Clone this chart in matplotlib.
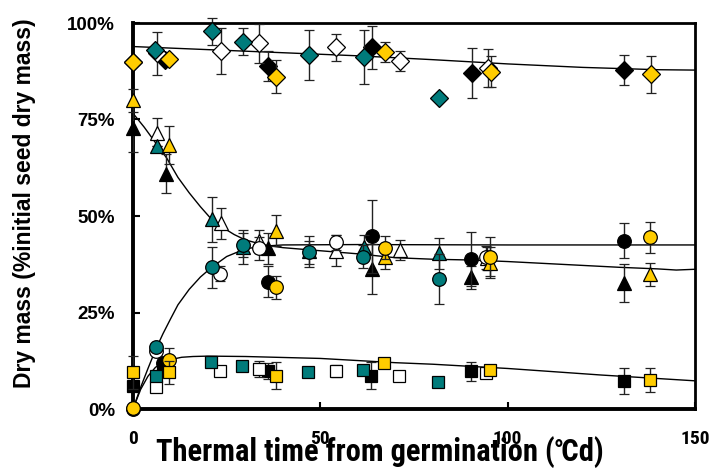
import numpy as np
import matplotlib
matplotlib.use("Agg")
import matplotlib.pyplot as plt
from matplotlib import font_manager

# ─── data ──────────────────────────────────────────────────────
# treatments: black, white, teal, yellow ; organs: diamond/triangle/circle/square
blk_dia_t = [0, 8.5, 36.1, 63.7, 90.4, 131.1]
blk_dia_v = [90.0, 90.4, 88.9, 93.7, 87.1, 87.8]
blk_dia_e = [0, 0, 3.8, 5.6, 6.5, 3.8]
blk_tri_t = [0, 8.8, 36.1, 63.7, 90.2, 131.0]
blk_tri_v = [72.7, 61.0, 41.6, 36.3, 34.1, 32.6]
blk_tri_e = [6.0, 5.0, 4.0, 6.5, 3.0, 5.0]
blk_cir_t = [0, 8.0, 35.9, 63.7, 90.2, 131.0]
blk_cir_v = [0.0, 12.0, 33.0, 44.7, 38.8, 43.6]
blk_cir_e = [0, 0, 4.0, 9.5, 7.0, 4.5]
blk_sq_t = [0, 8.0, 35.9, 63.4, 90.2, 131.0]
blk_sq_v = [6.0, 10.5, 9.8, 8.6, 9.8, 7.3]
blk_sq_e = [0, 0, 2.0, 3.5, 2.5, 3.3]

wht_dia_t = [6.5, 23.6, 33.7, 54.2, 71.3, 94.8]
wht_dia_v = [92.1, 92.8, 94.7, 93.7, 90.2, 88.3]
wht_dia_e = [5.5, 6.0, 5.0, 3.5, 2.6, 5.0]
wht_tri_t = [6.5, 23.5, 33.7, 54.1, 71.3, 94.5]
wht_tri_v = [71.4, 48.1, 43.5, 41.0, 41.2, 39.0]
wht_tri_e = [4.0, 4.0, 3.0, 4.0, 2.5, 3.0]
wht_cir_t = [6.1, 23.3, 33.7, 54.1, 94.3]
wht_cir_v = [15.1, 35.1, 41.6, 43.2, 39.3]
wht_cir_e = [0, 2.0, 3.0, 2.0, 3.0]
wht_sq_t = [6.1, 23.3, 33.6, 54.1, 71.1, 94.3]
wht_sq_v = [5.8, 9.8, 10.4, 9.8, 8.5, 9.2]
wht_sq_e = [0, 0, 2.0, 1.5, 1.0, 1.0]

tl_dia_t = [6.0, 21.2, 29.4, 47.0, 61.6, 81.7]
tl_dia_v = [93.0, 97.8, 95.2, 91.7, 91.1, 80.5]
tl_dia_e = [0, 3.6, 3.4, 6.5, 7.0, 0]
tl_tri_t = [6.5, 21.2, 29.4, 47.0, 61.6, 81.7]
tl_tri_v = [68.2, 49.1, 42.0, 40.9, 42.0, 40.3]
tl_tri_e = [0, 5.8, 4.5, 4.0, 3.0, 4.0]
tl_cir_t = [6.1, 21.0, 29.4, 47.0, 61.5, 81.7]
tl_cir_v = [16.0, 36.7, 42.5, 40.6, 39.5, 33.7]
tl_cir_e = [0, 5.3, 3.0, 3.0, 3.0, 6.5]
tl_sq_t = [6.1, 20.8, 29.2, 46.6, 61.5, 81.5]
tl_sq_v = [8.6, 12.3, 11.1, 9.5, 10.2, 6.9]
tl_sq_e = [0, 0, 0, 0, 0, 0]

yl_dia_t = [0, 9.7, 38.2, 67.3, 95.5, 138.2]
yl_dia_v = [89.9, 90.8, 86.1, 92.4, 87.4, 86.7]
yl_dia_e = [0, 0, 4.2, 2.6, 4.0, 4.8]
yl_tri_t = [0, 9.7, 38.2, 67.3, 95.3, 138.0]
yl_tri_v = [80.0, 68.4, 46.2, 39.3, 37.9, 34.9]
yl_tri_e = [3.0, 5.0, 4.0, 3.0, 4.0, 3.0]
yl_cir_t = [0, 9.6, 38.1, 67.3, 95.3, 138.0]
yl_cir_v = [0.2, 12.7, 31.5, 41.8, 39.5, 44.5]
yl_cir_e = [0, 3.0, 3.0, 3.0, 5.0, 4.0]
yl_sq_t = [0, 9.6, 38.1, 67.1, 95.3, 138.0]
yl_sq_v = [9.5, 9.5, 8.6, 12.0, 10.1, 7.5]
yl_sq_e = [4.3, 3.0, 3.5, 0, 0, 3.0]

# fitted curves
fit_dia_t = [0, 20, 40, 60, 80, 100, 120, 140, 150]
fit_dia_v = [93.9, 93.1, 92.3, 91.5, 90.5, 89.4, 88.5, 87.9, 87.8]
fit_tri_t = [0, 3, 6, 9, 12, 15, 18, 21, 24, 27, 30, 35, 40, 50, 60, 70,
             80, 90, 100, 110, 120, 130, 140, 145, 150]
fit_tri_v = [76.6, 73.0, 69.0, 65.0, 60.0, 56.0, 52.4, 49.1, 47.0, 45.2, 43.8,
             42.5, 41.8, 41.0, 40.2, 39.2, 38.8, 38.6, 38.2, 37.7, 37.2, 36.7,
             36.3, 36.0, 36.2]
fit_cir_t = [0, 2, 4, 6, 8, 10, 12, 15, 18, 21, 25, 30, 35, 40, 60, 100, 150]
fit_cir_v = [0.0, 5.5, 10.5, 15.3, 19.5, 23.3, 27.0, 31.0, 34.2, 36.7, 39.5,
             41.5, 42.2, 42.5, 42.6, 42.5, 42.5]
fit_sq_t = [0, 2, 4, 6, 8, 10, 13, 16, 20, 30, 50, 70, 80, 100, 125, 150]
fit_sq_v = [0.0, 5.0, 8.5, 10.8, 12.0, 12.8, 13.4, 13.6, 13.7, 13.6, 13.1,
            12.0, 11.6, 10.5, 8.8, 7.3]

# ─── style ─────────────────────────────────────────────────────
TEAL, YELLOW = "#007b7b", "#ffcc00"
names = {f.name for f in font_manager.fontManager.ttflist}
NARROW = next((n for n in ["Liberation Sans Narrow", "Roboto Condensed",
                           "Open Sans Condensed", "DejaVu Sans Condensed"]
               if n in names), "Liberation Sans")
plt.rcParams["font.family"] = ["Liberation Sans", "DejaVu Sans"]

fig, ax = plt.subplots(figsize=(7.16, 4.69), dpi=100)
fig.subplots_adjust(left=133 / 716, right=695 / 716, top=1 - 23 / 469, bottom=1 - 409 / 469)

# curves
for t, v in [(fit_dia_t, fit_dia_v), (fit_tri_t, fit_tri_v),
             (fit_cir_t, fit_cir_v), (fit_sq_t, fit_sq_v)]:
    ax.plot(t, v, color="black", lw=1.0, zorder=2)

groups = [
    ("black", [(blk_dia_t, blk_dia_v, blk_dia_e), (blk_tri_t, blk_tri_v, blk_tri_e),
               (blk_cir_t, blk_cir_v, blk_cir_e), (blk_sq_t, blk_sq_v, blk_sq_e)]),
    ("white", [(wht_dia_t, wht_dia_v, wht_dia_e), (wht_tri_t, wht_tri_v, wht_tri_e),
               (wht_cir_t, wht_cir_v, wht_cir_e), (wht_sq_t, wht_sq_v, wht_sq_e)]),
    (TEAL, [(tl_dia_t, tl_dia_v, tl_dia_e), (tl_tri_t, tl_tri_v, tl_tri_e),
            (tl_cir_t, tl_cir_v, tl_cir_e), (tl_sq_t, tl_sq_v, tl_sq_e)]),
    (YELLOW, [(yl_dia_t, yl_dia_v, yl_dia_e), (yl_tri_t, yl_tri_v, yl_tri_e),
              (yl_cir_t, yl_cir_v, yl_cir_e), (yl_sq_t, yl_sq_v, yl_sq_e)]),
]
markers = ["D", "^", "o", "s"]
sizes = [9.0, 10.5, 9.8, 9.2]

z = 3
for col, sets in groups:
    for (t, v, e), mk, ms in zip(sets, markers, sizes):
        eb = ax.errorbar(t, v, yerr=e, fmt=mk, ms=ms, mfc=col, mec="black",
                         mew=0.9, ecolor="#222222", elinewidth=1.0,
                         capsize=3.5, capthick=1.0, zorder=z)
        for art in eb.lines[0:1] + tuple(eb.lines[1]) + tuple(eb.lines[2]):
            art.set_clip_on(False)
        z += 0.1

# ─── axes ──────────────────────────────────────────────────────
ax.set_xlim(0, 150)
ax.set_ylim(0, 100)
ax.set_xticks([0, 50, 100, 150])
ax.set_yticks([0, 25, 50, 75, 100])
ax.set_yticklabels(["0%", "25%", "50%", "75%", "100%"])
ax.tick_params(axis="both", direction="in", length=5, width=1.5, colors="black")
ax.tick_params(axis="y", pad=13, labelsize=13.5)
ax.tick_params(axis="x", pad=15, labelsize=14)
for lab in ax.get_yticklabels():
    lab.set_fontweight("bold")
    lab.set_family(["Liberation Sans", "DejaVu Sans"])
for lab in ax.get_xticklabels():
    lab.set_fontweight("bold")
    lab.set_family([NARROW, "DejaVu Sans"])
for s in ax.spines.values():
    s.set_linewidth(2.0)
ax.spines["left"].set_linewidth(2.8)
ax.spines["bottom"].set_linewidth(2.8)

ax.set_xlabel("Thermal time from germination (\u2103d)", fontsize=22,
              fontweight="bold", family=[NARROW, "DejaVu Sans"], va="center")
ax.xaxis.set_label_coords((380 - 133) / 562, (409 - 452) / 386)
ax.set_ylabel("Dry mass (%initial seed dry mass)", fontsize=16.5,
              fontweight="bold", va="center", family=["Liberation Sans", "DejaVu Sans"])
ax.yaxis.set_label_coords((25 - 133) / 562, (409 - 203) / 386)

fig.savefig("out.png", dpi=100)
